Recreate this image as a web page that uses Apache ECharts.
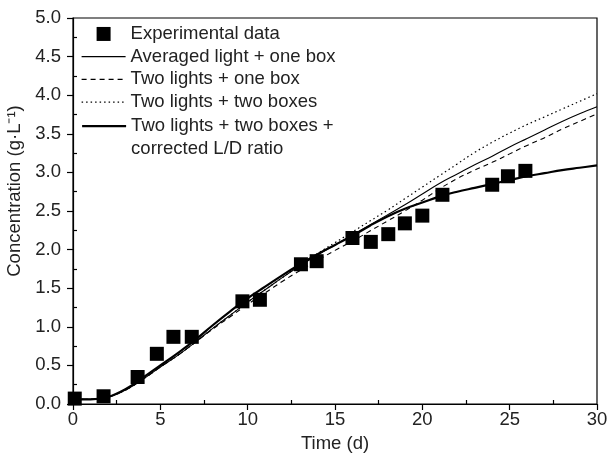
<!DOCTYPE html>
<html>
<head>
<meta charset="utf-8">
<script src="https://cdn.jsdelivr.net/npm/echarts@6/dist/echarts.min.js"></script>
<style>
  html, body { margin: 0; padding: 0; background: #fff; }
  #chart { width: 608px; height: 459px; }
</style>
</head>
<body>
<div id="chart"></div>
<script>
// measured points
var expTime = [0.1, 1.75, 3.7, 4.8, 5.75, 6.8, 9.7, 10.7, 13.05, 13.95, 16.0, 17.05, 18.05, 19.0, 20.0, 21.15, 24.0, 24.9, 25.9];
var expConc = [0.07, 0.10, 0.35, 0.65, 0.87, 0.87, 1.33, 1.35, 1.81, 1.85, 2.15, 2.10, 2.20, 2.34, 2.44, 2.71, 2.84, 2.95, 3.02];

// model curves, one value per day (0..30)
var days = [0, 1, 2, 3, 4, 5, 6, 7, 8, 9, 10, 11, 12, 13, 14, 15, 16, 17, 18, 19, 20, 21, 22, 23, 24, 25, 26, 27, 28, 29, 30];
var avgLightOneBox = [0.06, 0.06, 0.09, 0.18, 0.32, 0.48, 0.63, 0.80, 0.98, 1.15, 1.32, 1.48, 1.64, 1.79, 1.93, 2.06, 2.19, 2.32, 2.45, 2.58, 2.72, 2.86, 2.98, 3.10, 3.21, 3.33, 3.44, 3.55, 3.66, 3.76, 3.85];
var twoLightsOneBox = [0.06, 0.06, 0.09, 0.18, 0.32, 0.48, 0.63, 0.80, 0.97, 1.13, 1.29, 1.44, 1.59, 1.73, 1.86, 1.99, 2.11, 2.24, 2.37, 2.50, 2.64, 2.79, 2.92, 3.03, 3.13, 3.24, 3.35, 3.45, 3.56, 3.66, 3.76];
var twoLightsTwoBoxes = [0.06, 0.06, 0.09, 0.18, 0.32, 0.48, 0.63, 0.80, 0.98, 1.15, 1.32, 1.48, 1.64, 1.80, 1.95, 2.09, 2.23, 2.37, 2.51, 2.66, 2.81, 2.96, 3.11, 3.26, 3.39, 3.51, 3.62, 3.72, 3.82, 3.92, 4.02];
var correctedLD = [0.06, 0.06, 0.09, 0.19, 0.34, 0.50, 0.66, 0.83, 1.02, 1.20, 1.37, 1.52, 1.67, 1.81, 1.94, 2.06, 2.18, 2.31, 2.43, 2.53, 2.61, 2.69, 2.75, 2.80, 2.85, 2.90, 2.95, 2.99, 3.03, 3.06, 3.09];

var xTicks = [0, 5, 10, 15, 20, 25, 30];
var yTicks = [0.0, 0.5, 1.0, 1.5, 2.0, 2.5, 3.0, 3.5, 4.0, 4.5, 5.0];

var names = ['Experimental data', 'Averaged light + one box', 'Two lights + one box',
  'Two lights + two boxes', 'Two lights + two boxes + corrected L/D ratio'];

function pairs(xs, ys) {
  var out = [];
  for (var i = 0; i < xs.length; i++) {
    out.push([xs[i], ys[i]]);
  }
  return out;
}

var font = 'Liberation Sans, Arial, sans-serif';
var fs = 18.5;
var square = 'path://M0,0L10,0L10,10L0,10Z';
var noDot = { opacity: 0 };
var myChart = echarts.init(document.getElementById('chart'));

var legendBase = {
  orient: 'vertical',
  left: 81,
  padding: 0,
  itemWidth: 44,
  itemHeight: 14,
  itemGap: 0,
  selectedMode: false,
  textStyle: { fontFamily: font, fontSize: fs, color: '#222', lineHeight: 22.7 }
};

function lineSeries(name, data, width, type) {
  return {
    name: name,
    type: 'line',
    data: pairs(days, data),
    symbol: 'none',
    smooth: 0.4,
    lineStyle: { color: '#000', width: width, type: type },
    itemStyle: { color: '#000' },
    z: 2
  };
}

myChart.setOption({
  animation: false,
  grid: {
    left: 73, right: 11, top: 18, bottom: 55,
    outerBoundsMode: 'none',
    containLabel: false,
    show: true, borderColor: '#000', borderWidth: 1.2
  },
  legend: [
    Object.assign({}, legendBase, {
      top: 22.6,
      data: [
        { name: names[0], icon: square },
        { name: names[1], itemStyle: noDot, lineStyle: { width: 1.1 } },
        { name: names[2], itemStyle: noDot, lineStyle: { width: 1.1 } },
        { name: names[3], itemStyle: noDot, lineStyle: { width: 1.2 } }
      ]
    }),
    Object.assign({}, legendBase, {
      top: 92,
      data: [{ name: names[4], itemStyle: noDot, lineStyle: { width: 2.2 } }],
      // blank first line keeps the icon beside the first text line
      formatter: function () {
        return '\nTwo lights + two boxes +\ncorrected L/D ratio';
      }
    })
  ],
  xAxis: {
    type: 'value',
    min: 0, max: 30, interval: 5,
    name: 'Time (d)',
    nameLocation: 'middle',
    nameGap: 30,
    nameTextStyle: { fontFamily: font, fontSize: fs, color: '#222' },
    axisLine: { onZero: false, lineStyle: { color: '#000', width: 1.2 } },
    axisTick: { inside: false, length: 6, lineStyle: { color: '#000', width: 1.2 } },
    minorTick: { show: true, splitNumber: 2, length: -4, lineStyle: { color: '#000', width: 1.2 } },
    splitLine: { show: false },
    axisLabel: { fontFamily: font, fontSize: fs, color: '#222', margin: 6,
      customValues: xTicks }
  },
  yAxis: {
    type: 'value',
    min: 0, max: 5, interval: 0.5,
    name: 'Concentration (g·L⁻¹)',
    nameLocation: 'middle',
    nameGap: 47,
    nameTextStyle: { fontFamily: font, fontSize: fs, color: '#222', padding: [0, 0, 0, 40] },
    axisLine: { onZero: false, lineStyle: { color: '#000', width: 1.2 } },
    axisTick: { inside: false, length: 6, lineStyle: { color: '#000', width: 1.2 } },
    minorTick: { show: true, splitNumber: 2, length: -4, lineStyle: { color: '#000', width: 1.2 } },
    splitLine: { show: false },
    axisLabel: { fontFamily: font, fontSize: fs, color: '#222', margin: 12,
      customValues: yTicks,
      formatter: function (v) { return v.toFixed(1); } }
  },
  series: [
    {
      name: names[0],
      type: 'scatter',
      data: pairs(expTime, expConc),
      symbol: 'rect',
      symbolSize: 14,
      itemStyle: { color: '#000', opacity: 1 },
      clip: false,
      z: 3
    },
    lineSeries(names[1], avgLightOneBox, 1.1, 'solid'),
    lineSeries(names[2], twoLightsOneBox, 1.1, [5, 4]),
    lineSeries(names[3], twoLightsTwoBoxes, 1.2, [1.5, 3]),
    lineSeries(names[4], correctedLD, 2.2, 'solid')
  ]
});
</script>
</body>
</html>
